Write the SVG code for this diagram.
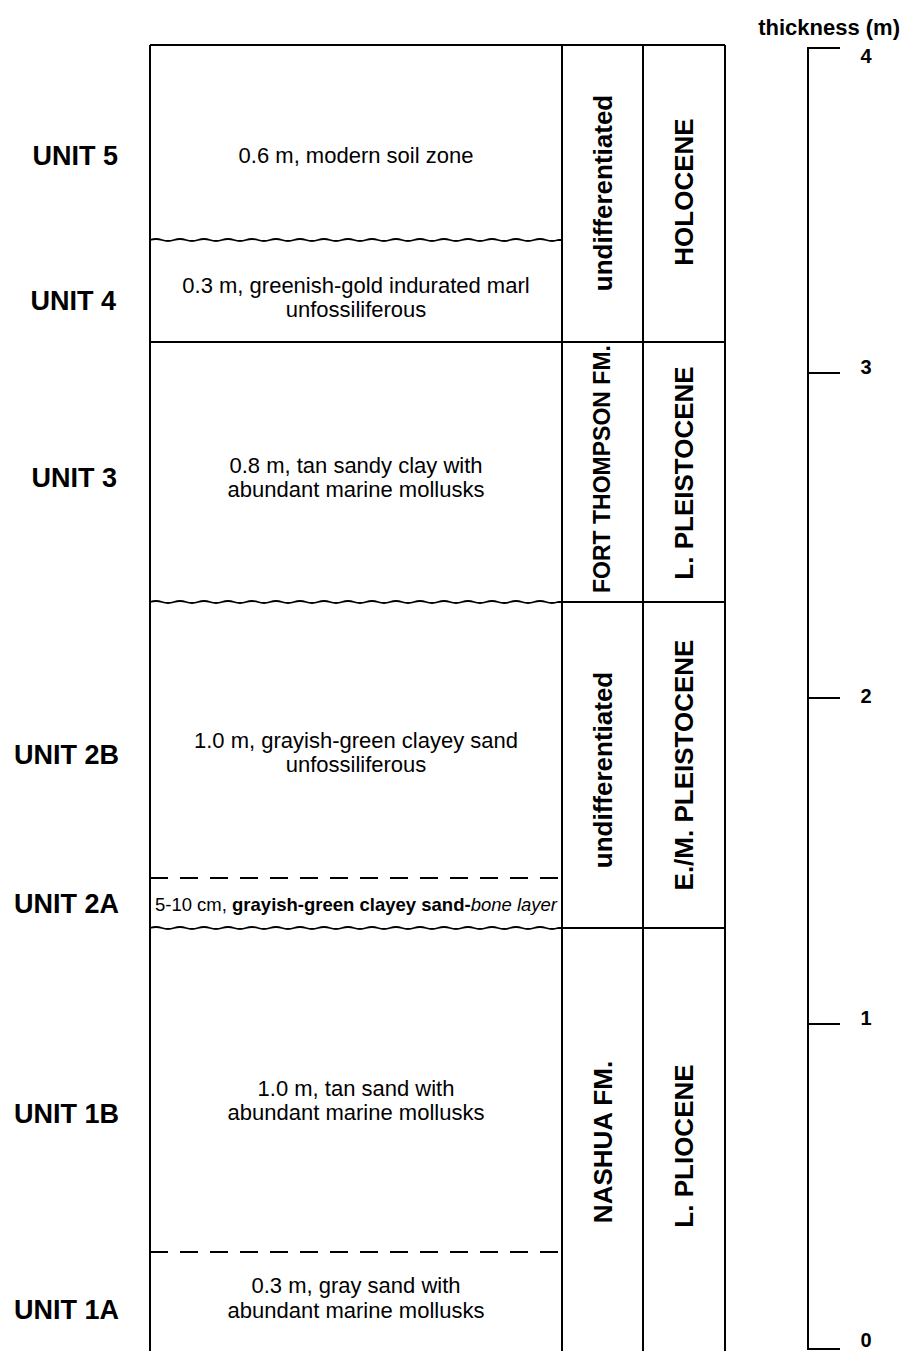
<svg xmlns="http://www.w3.org/2000/svg" width="903" height="1351" viewBox="0 0 903 1351">
<style>
text{font-family:"Liberation Sans",Arial,Helvetica,sans-serif;fill:#000}
.unit{font-size:27px;font-weight:bold;text-anchor:end}
.desc{font-size:22px;text-anchor:middle}
.vl{font-size:26px;font-weight:bold;text-anchor:middle}
.num{font-size:20px;font-weight:bold;text-anchor:middle}
.ln{stroke:#000;stroke-width:2;fill:none}
.dash{stroke:#000;stroke-width:2;fill:none;stroke-dasharray:18 12}
.wave{stroke:#000;stroke-width:1.8;fill:none}
</style>
<rect width="903" height="1351" fill="#fff"/>
<g id="connectors">
  <path class="ln" d="M150,45 H725 M150,45 V1351 M562,45 V1351 M643,45 V1351 M725,45 V1351 M150,342 H725 M562,602 H725 M562,928 H725"/>
  <path class="wave" d="M150,240 q6,-2 12,0 t12,0 t12,0 t12,0 t12,0 t12,0 t12,0 t12,0 t12,0 t12,0 t12,0 t12,0 t12,0 t12,0 t12,0 t12,0 t12,0 t12,0 t12,0 t12,0 t12,0 t12,0 t12,0 t12,0 t12,0 t12,0 t12,0 t12,0 t12,0 t12,0 t12,0 t12,0 t12,0 t12,0 L562,240"/>
  <path class="wave" d="M150,602 q6,-2 12,0 t12,0 t12,0 t12,0 t12,0 t12,0 t12,0 t12,0 t12,0 t12,0 t12,0 t12,0 t12,0 t12,0 t12,0 t12,0 t12,0 t12,0 t12,0 t12,0 t12,0 t12,0 t12,0 t12,0 t12,0 t12,0 t12,0 t12,0 t12,0 t12,0 t12,0 t12,0 t12,0 t12,0 L562,602"/>
  <path class="wave" d="M150,928 q6,-2 12,0 t12,0 t12,0 t12,0 t12,0 t12,0 t12,0 t12,0 t12,0 t12,0 t12,0 t12,0 t12,0 t12,0 t12,0 t12,0 t12,0 t12,0 t12,0 t12,0 t12,0 t12,0 t12,0 t12,0 t12,0 t12,0 t12,0 t12,0 t12,0 t12,0 t12,0 t12,0 t12,0 t12,0 L562,928"/>
  <path class="dash" d="M150,878 H562 M150,1252 H562"/>
</g>
<g id="unit-5">
  <text class="unit" x="118" y="165">UNIT 5</text>
  <text class="desc" x="356" y="163">0.6 m, modern soil zone</text>
</g>
<g id="unit-4">
  <text class="unit" x="116" y="310">UNIT 4</text>
  <text class="desc" x="356" y="293">0.3 m, greenish-gold indurated marl</text>
  <text class="desc" x="356" y="317">unfossiliferous</text>
</g>
<g id="unit-3">
  <text class="unit" x="117" y="487">UNIT 3</text>
  <text class="desc" x="356" y="473">0.8 m, tan sandy clay with</text>
  <text class="desc" x="356" y="497">abundant marine mollusks</text>
</g>
<g id="unit-2b">
  <text class="unit" x="119" y="764">UNIT 2B</text>
  <text class="desc" x="356" y="748">1.0 m, grayish-green clayey sand</text>
  <text class="desc" x="356" y="772">unfossiliferous</text>
</g>
<g id="unit-2a">
  <text class="unit" x="119" y="913">UNIT 2A</text>
  <text x="356" y="911" style="font-size:18.5px;text-anchor:middle">5-10 cm, <tspan style="font-weight:bold">grayish-green clayey sand-</tspan><tspan style="font-style:italic">bone layer</tspan></text>
</g>
<g id="unit-1b">
  <text class="unit" x="119" y="1123">UNIT 1B</text>
  <text class="desc" x="356" y="1096">1.0 m, tan sand with</text>
  <text class="desc" x="356" y="1120">abundant marine mollusks</text>
</g>
<g id="unit-1a">
  <text class="unit" x="119" y="1319">UNIT 1A</text>
  <text class="desc" x="356" y="1293">0.3 m, gray sand with</text>
  <text class="desc" x="356" y="1318">abundant marine mollusks</text>
</g>
<g id="formations">
  <text class="vl" transform="translate(612,193) rotate(-90)">undifferentiated</text>
  <text class="vl" style="font-size:23px" transform="translate(610,469) rotate(-90)">FORT THOMPSON FM.</text>
  <text class="vl" transform="translate(612,770) rotate(-90)">undifferentiated</text>
  <text class="vl" transform="translate(612,1142) rotate(-90)">NASHUA FM.</text>
</g>
<g id="epochs">
  <text class="vl" transform="translate(693,192) rotate(-90)">HOLOCENE</text>
  <text class="vl" transform="translate(693,473) rotate(-90)">L. PLEISTOCENE</text>
  <text class="vl" transform="translate(693,765) rotate(-90)">E./M. PLEISTOCENE</text>
  <text class="vl" transform="translate(693,1146) rotate(-90)">L. PLIOCENE</text>
</g>
<g id="scale">
  <text x="900" y="35" style="font-size:22px;font-weight:bold;text-anchor:end">thickness (m)</text>
  <path class="ln" d="M840,48 H808 V1349 H840 M808,373 H840 M808,698 H840 M808,1024 H840"/>
  <text class="num" x="866" y="63">4</text>
  <text class="num" x="866" y="374">3</text>
  <text class="num" x="866" y="703">2</text>
  <text class="num" x="866" y="1025">1</text>
  <text class="num" x="866" y="1347">0</text>
</g>
</svg>
